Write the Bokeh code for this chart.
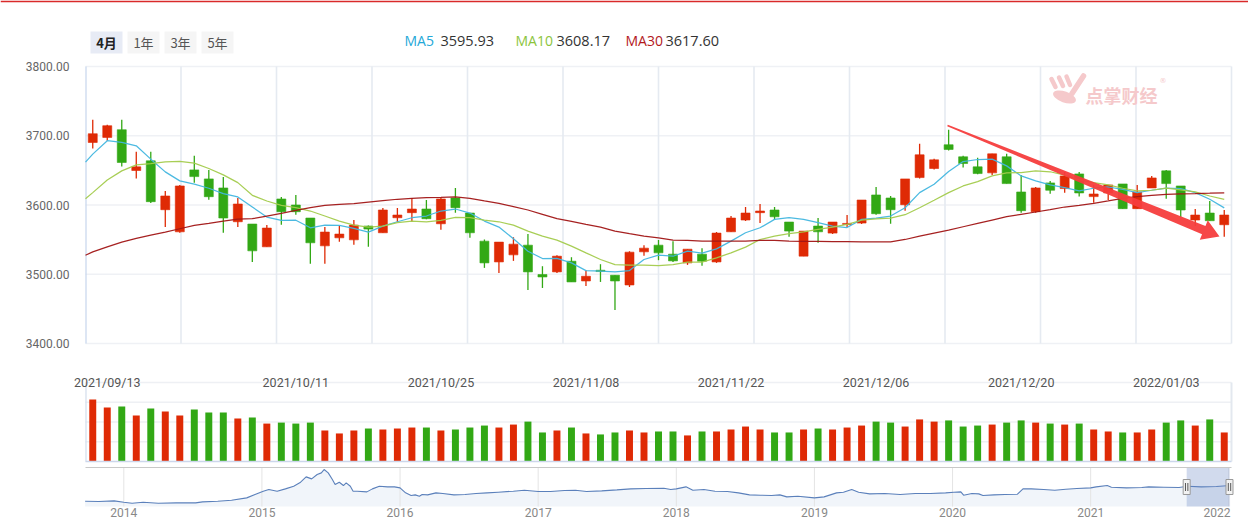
import numpy as np
from bokeh.plotting import figure
from bokeh.models import Range1d
from bokeh.core.properties import value
from bokeh.embed import file_html
from bokeh.resources import INLINE

# ---------------- data ----------------
opens = [3690.3, 3697.6, 3708.7, 3649.8, 3663.8, 3593.2, 3561.3, 3650.7, 3637.7, 3624.6,
         3575.8, 3572.5, 3539.6, 3608.7, 3600.0, 3581.2, 3541.0, 3552.6, 3549.7, 3569.6,
         3559.9, 3581.6, 3588.9, 3594.2, 3572.9, 3610.1, 3588.4, 3547.8, 3517.8, 3528.0,
         3542.0, 3499.6, 3503.4, 3518.8, 3490.3, 3505.8, 3498.6, 3484.5, 3532.4, 3542.0,
         3529.0, 3516.4, 3529.0, 3517.8, 3561.3, 3578.3, 3588.9, 3592.8, 3575.4, 3526.1,
         3569.6, 3559.4, 3572.0, 3573.9, 3614.5, 3610.1, 3600.4, 3639.6, 3652.7, 3687.0,
         3669.6, 3655.1, 3646.4, 3669.6, 3618.8, 3590.3, 3631.9, 3623.7, 3644.9, 3612.1,
         3617.4, 3630.4, 3594.7, 3624.6, 3649.3, 3627.5, 3578.3, 3588.4, 3571.5]
highs = [3723.2, 3715.9, 3723.2, 3676.8, 3676.8, 3620.3, 3629.0, 3671.0, 3650.7, 3640.6,
         3610.1, 3572.5, 3571.0, 3611.6, 3614.5, 3581.2, 3568.1, 3569.6, 3578.3, 3570.5,
         3595.7, 3595.7, 3610.1, 3607.2, 3610.1, 3624.6, 3588.4, 3550.2, 3546.4, 3553.6,
         3558.0, 3511.6, 3527.5, 3524.6, 3505.8, 3514.5, 3498.6, 3533.3, 3542.0, 3549.3,
         3547.8, 3536.2, 3537.7, 3560.9, 3584.1, 3597.1, 3601.4, 3597.1, 3575.4, 3562.3,
         3581.2, 3575.4, 3585.5, 3607.2, 3626.1, 3613.0, 3637.7, 3688.4, 3666.7, 3708.7,
         3671.0, 3668.1, 3673.9, 3673.9, 3643.5, 3626.1, 3634.8, 3647.8, 3647.8, 3629.0,
         3629.0, 3630.4, 3629.0, 3642.0, 3650.7, 3627.5, 3594.2, 3605.8, 3592.8]
lows = [3681.6, 3692.8, 3655.6, 3638.2, 3603.0, 3568.1, 3559.9, 3632.3, 3607.7, 3559.9,
        3568.1, 3517.8, 3539.6, 3571.5, 3586.0, 3515.0, 3515.0, 3546.8, 3542.5, 3539.6,
        3559.9, 3575.4, 3575.8, 3579.5, 3564.3, 3588.9, 3552.6, 3509.2, 3501.9, 3519.3,
        3477.3, 3480.2, 3501.9, 3488.9, 3483.1, 3488.9, 3448.3, 3481.6, 3526.6, 3520.3,
        3517.8, 3513.5, 3512.1, 3516.4, 3561.3, 3576.8, 3573.9, 3578.3, 3554.1, 3526.1,
        3545.4, 3558.0, 3568.1, 3572.5, 3586.0, 3572.9, 3591.8, 3638.2, 3651.2, 3678.7,
        3654.1, 3644.5, 3643.5, 3630.9, 3588.9, 3588.9, 3616.4, 3617.8, 3612.1, 3603.4,
        3607.2, 3594.7, 3594.7, 3624.6, 3609.2, 3582.6, 3569.6, 3577.3, 3554.1]
closes = [3702.9, 3714.5, 3661.4, 3655.1, 3604.8, 3613.0, 3627.5, 3641.0, 3612.0, 3581.2,
          3601.4, 3533.8, 3566.7, 3590.3, 3590.3, 3545.4, 3560.9, 3558.0, 3571.0, 3565.2,
          3592.8, 3585.5, 3594.2, 3580.2, 3608.7, 3596.1, 3559.9, 3516.4, 3546.4, 3543.5,
          3503.4, 3496.1, 3526.1, 3488.9, 3497.1, 3503.9, 3490.3, 3531.9, 3537.7, 3530.9,
          3519.3, 3536.2, 3518.8, 3559.4, 3581.2, 3588.4, 3591.3, 3583.0, 3562.3, 3562.3,
          3561.3, 3575.4, 3573.4, 3607.2, 3587.4, 3593.2, 3637.7, 3672.5, 3665.2, 3680.2,
          3659.9, 3645.4, 3673.9, 3630.9, 3591.8, 3624.6, 3621.3, 3642.0, 3617.4, 3615.9,
          3629.0, 3594.7, 3618.8, 3639.1, 3630.9, 3592.8, 3585.5, 3577.3, 3585.5]
volumes = [3140, 2730, 2780, 2330, 2680, 2530, 2330, 2630, 2480, 2480,
           2180, 2230, 1920, 1970, 1920, 1970, 1570, 1420, 1570, 1670,
           1620, 1670, 1720, 1720, 1570, 1620, 1720, 1820, 1720, 1870,
           2020, 1470, 1570, 1720, 1420, 1370, 1470, 1570, 1470, 1520,
           1520, 1320, 1520, 1520, 1620, 1770, 1620, 1470, 1470, 1620,
           1670, 1620, 1720, 1820, 2020, 1970, 1770, 2130, 2020, 2080,
           1770, 1820, 1870, 1970, 2080, 1970, 1920, 1870, 1920, 1620,
           1520, 1470, 1470, 1620, 1970, 2080, 1820, 2130, 1470]
ma5 = [3673.5, 3692.8, 3690.3, 3685.5, 3666.2, 3647.8, 3634.8, 3630.0, 3624.2, 3616.4,
       3611.6, 3597.1, 3582.6, 3577.8, 3578.0, 3567.1, 3571.0, 3570.5, 3566.2, 3560.9,
       3569.6, 3575.8, 3581.6, 3584.1, 3591.3, 3594.2, 3588.4, 3576.8, 3568.1, 3551.2,
       3533.3, 3522.7, 3523.0, 3516.4, 3505.3, 3504.5, 3503.4, 3505.3, 3521.3, 3527.5,
       3526.0, 3533.3, 3530.4, 3536.7, 3547.8, 3559.9, 3567.1, 3579.2, 3581.6, 3579.2,
       3574.4, 3569.6, 3567.5, 3579.2, 3581.0, 3584.1, 3596.1, 3617.9, 3630.0, 3648.3,
       3662.8, 3665.7, 3666.2, 3656.5, 3642.0, 3634.8, 3629.0, 3625.1, 3620.3, 3624.2,
       3626.0, 3622.6, 3617.9, 3621.3, 3624.2, 3623.7, 3617.9, 3608.3, 3595.9]
ma10 = [3617.9, 3636.2, 3649.3, 3658.0, 3659.9, 3662.3, 3663.0, 3660.4, 3652.7, 3643.5,
        3632.3, 3614.0, 3605.8, 3599.5, 3596.1, 3591.3, 3584.1, 3576.8, 3571.0, 3568.1,
        3569.6, 3574.4, 3576.8, 3575.8, 3577.8, 3582.1, 3581.6, 3578.3, 3575.8, 3571.0,
        3562.3, 3555.0, 3549.3, 3540.6, 3530.9, 3521.3, 3514.0, 3513.0, 3513.0, 3512.6,
        3514.0, 3517.4, 3517.4, 3523.7, 3530.9, 3539.1, 3550.2, 3555.0, 3558.5, 3561.3,
        3564.7, 3568.1, 3572.0, 3578.0, 3580.0, 3581.2, 3586.0, 3596.0, 3606.8, 3617.9,
        3627.5, 3633.8, 3642.0, 3646.4, 3646.9, 3649.3, 3648.0, 3643.0, 3636.2, 3632.3,
        3629.0, 3624.2, 3620.3, 3621.3, 3624.2, 3622.0, 3619.0, 3613.0, 3608.2]
ma30 = [3532.4, 3539.6, 3546.4, 3551.7, 3556.5, 3560.9, 3565.7, 3570.5, 3573.4, 3576.8,
        3579.7, 3580.2, 3584.1, 3588.0, 3592.3, 3596.1, 3599.5, 3601.0, 3602.0, 3604.3,
        3606.3, 3608.3, 3609.7, 3610.6, 3611.0, 3611.6, 3609.5, 3605.8, 3602.4, 3597.6,
        3592.8, 3586.5, 3580.2, 3576.3, 3572.0, 3568.1, 3562.3, 3558.5, 3555.1, 3552.6,
        3549.3, 3549.0, 3548.0, 3548.0, 3548.0, 3548.0, 3549.0, 3549.0, 3548.0, 3547.5,
        3547.5, 3547.0, 3547.0, 3546.8, 3546.8, 3546.8, 3550.2, 3555.1, 3559.5, 3563.8,
        3568.6, 3573.4, 3578.3, 3583.1, 3586.5, 3589.9, 3593.2, 3597.1, 3599.5, 3602.4,
        3605.8, 3609.7, 3612.0, 3614.0, 3615.3, 3616.2, 3616.5, 3617.0, 3617.6]
ma_edge = [3662.0, 3609.0, 3527.5]          # MA values where lines enter at the left edge
ma_names = ["MA5", "MA10", "MA30"]
ma_last = ["3595.93", "3608.17", "3617.60"]

date_tick_idx = [1, 14, 24, 34, 44, 54, 64, 74]
date_tick_labels = ["2021/09/13", "2021/10/11", "2021/10/25", "2021/11/08",
                    "2021/11/22", "2021/12/06", "2021/12/20", "2022/01/03"]
price_ticks = [3400, 3500, 3600, 3700, 3800]
vol_grid = [1000, 2000, 3000, 4000]
range_buttons = ["4月", "1年", "3年", "5年"]

nav_years = [2013.72, 2013.82, 2013.93, 2014.00, 2014.06, 2014.14, 2014.25, 2014.38, 2014.52, 2014.57,
             2014.68, 2014.78, 2014.89, 2014.95, 2015.01, 2015.05, 2015.11, 2015.17, 2015.23, 2015.28,
             2015.32, 2015.36, 2015.40, 2015.43, 2015.45, 2015.48, 2015.51, 2015.53, 2015.56, 2015.59,
             2015.61, 2015.64, 2015.66, 2015.69, 2015.76, 2015.80, 2015.85, 2015.91, 2015.96, 2016.00,
             2016.04, 2016.08, 2016.11, 2016.14, 2016.16, 2016.20, 2016.26, 2016.31, 2016.39, 2016.47,
             2016.55, 2016.63, 2016.71, 2016.82, 2016.90, 2017.00, 2017.09, 2017.19, 2017.27, 2017.35,
             2017.46, 2017.57, 2017.67, 2017.78, 2017.91,
             2017.96, 2018.00, 2018.07, 2018.12, 2018.20, 2018.28, 2018.37, 2018.45, 2018.53, 2018.61,
             2018.69, 2018.75, 2018.80, 2018.88, 2019.00, 2019.07, 2019.16, 2019.21, 2019.27, 2019.32,
             2019.40, 2019.51, 2019.62, 2019.73, 2019.84, 2019.95, 2020.01, 2020.06, 2020.08, 2020.14,
             2020.19, 2020.22, 2020.30, 2020.38, 2020.47, 2020.51, 2020.57, 2020.66, 2020.74, 2020.82,
             2020.90, 2021.00, 2021.04, 2021.12, 2021.15, 2021.26, 2021.37, 2021.42, 2021.53, 2021.64,
             2021.70, 2021.80, 2021.91, 2022.01]
nav_values = [2126, 2094, 2159, 2029, 1932, 2029, 1932, 1964, 1964, 2062,
              2126, 2224, 2450, 2774, 3098, 3260, 3098, 3325, 3584, 3973,
              4492, 4297, 4718, 4880, 5204, 4880, 4232, 3746, 3973, 3649,
              3908, 3584, 3098, 3098, 3034, 3325, 3584, 3520, 3520, 3422,
              2936, 2677, 2742, 2612, 2774, 2742, 2936, 2872, 2742, 2774,
              2872, 2936, 3001, 3098, 3196, 3066, 3066, 3163, 3196, 3066,
              3131, 3228, 3325, 3357, 3390,
              3260, 3325, 3520, 3196, 3260, 3098, 3066, 2936, 2742, 2710,
              2677, 2742, 2548, 2612, 2450, 2548, 2936, 3001, 3260, 3001,
              2839, 2872, 2774, 2872, 2872, 2936, 3001, 3034, 2710, 2872,
              2839, 2677, 2742, 2774, 2807, 3325, 3325, 3260, 3196, 3293,
              3357, 3422, 3520, 3649, 3487, 3422, 3455, 3520, 3487, 3455,
              3584, 3520, 3552, 3649]
nav_year_ticks = [2014, 2015, 2016, 2017, 2018, 2019, 2020, 2021, 2022]
nav_selection = [2021.695, 2022.005]

# ---------------- layout constants (canvas pixels) ----------------
W, H = 1248, 525
FRAME_L, FRAME_R = 85, 1231
RED, GREEN = "#df2a05", "#32a815"
MA_COLORS = ["#42b6df", "#a3cb4c", "#a11515"]
MA_TEXT_COLORS = ["#24a8d8", "#8cc43c", "#b3181c"]


def vspan(v1, y1, v2, y2):
    s = (v2 - v1) / (y2 - y1)
    return Range1d(start=v1 + (H - y1) * s, end=v1 + (0 - y1) * s)


def hspan(v1, x1, v2, x2):
    s = (v2 - v1) / (x2 - x1)
    return Range1d(start=v1 + (0 - x1) * s, end=v1 + (W - x1) * s)


def lin(v1, a1, v2, a2):
    s = (v2 - v1) / (a2 - a1)
    return lambda a: v1 + (a - a1) * s


n = len(closes)
idx = list(range(n))
colors = [RED if c >= o else GREEN for o, c in zip(opens, closes)]
body_top = [max(o, c) for o, c in zip(opens, closes)]
body_bot = [min(o, c) for o, c in zip(opens, closes)]

NAV_Y = lin(2000, 502, 5402, 467)
NAV_PX = lin(123.3, 2014, 1228.3, 2022)   # year -> canvas x

p = figure(width=W, height=H,
           x_range=hspan(-0.5, FRAME_L, n - 0.5, FRAME_R),
           y_range=vspan(price_ticks[-1], 66, price_ticks[0], 343),
           x_axis_location=None, y_axis_location=None,
           output_backend="svg", toolbar_location=None,
           min_border_left=0, min_border_right=0, min_border_top=0, min_border_bottom=0)
p.extra_x_ranges = {"px": Range1d(0, W), "nav": hspan(2014, 123.3, 2022, 1228.3)}
p.extra_y_ranges = {"py": Range1d(H, 0),
                    "vol": vspan(vol_grid[-1], 382, 0, 461),
                    "navy": vspan(2000, 502, 5402, 467)}
p.xgrid.visible = False
p.ygrid.visible = False
p.outline_line_color = None
p.background_fill_color = "white"
p.border_fill_color = "white"

# top red rule of the page
p.segment(x0=[0], x1=[W], y0=[0.8], y1=[0.8], x_range_name="px", y_range_name="py",
          line_color="#d92a2a", line_width=1.8)

# ---------------- main price panel ----------------
grid_x = [FRAME_L + k * (FRAME_R - FRAME_L) / 12 for k in range(13)]
p.segment(x0=[FRAME_L] * len(price_ticks), x1=[FRAME_R] * len(price_ticks),
          y0=price_ticks, y1=price_ticks, x_range_name="px",
          line_color="#eff1f5", line_width=1.6)
p.segment(x0=grid_x[1:], x1=grid_x[1:], y0=[price_ticks[0]] * 12, y1=[price_ticks[-1]] * 12,
          x_range_name="px", line_color="#e5eaf1", line_width=1.6)
p.segment(x0=[FRAME_L + 0.5], x1=[FRAME_L + 0.5], y0=[price_ticks[0]], y1=[price_ticks[-1]],
          x_range_name="px", line_color="#c6d6ed", line_width=1.2)
p.text(x=[69] * len(price_ticks), y=price_ticks, text=[f"{t:.2f}" for t in price_ticks],
       x_range_name="px", text_font=value("Roboto"), text_font_size="12px",
       text_color="#666666", text_align="right", text_baseline="middle")

p.segment(x0=idx, y0=highs, x1=idx, y1=lows, line_color=colors, line_width=1.3)
p.vbar(x=idx, width=0.62, top=body_top, bottom=body_bot,
       fill_color=colors, line_color=colors, line_width=0.6)

for vals, edge, col in zip([ma5, ma10, ma30], ma_edge, MA_COLORS):
    p.line(x=[-0.5] + idx, y=[edge] + vals, line_color=col, line_width=1.25, line_alpha=0.95)

# hand-drawn arrow annotation (canvas pixels)
S = np.array([947.0, 125.0])
T = np.array([1219.0, 236.0])
u = (T - S) / np.linalg.norm(T - S)
nrm = np.array([-u[1], u[0]])
B = T - 17 * u
pts = [S + 0.8 * nrm, B + 4.5 * nrm, B + 10.5 * nrm, T, B - 10.5 * nrm, B - 4.5 * nrm, S - 0.8 * nrm]
p.patch(x=[q[0] for q in pts], y=[q[1] for q in pts], x_range_name="px", y_range_name="py",
        fill_color="#f53d3d", fill_alpha=0.95, line_color=None)

# watermark
wm = "#f5c9cb"
p.segment(x0=[1051, 1058.5, 1066], y0=[78.5, 77, 76], x1=[1055, 1062.5, 1069.5], y1=[86.5, 85.5, 84.5],
          x_range_name="px", y_range_name="py", line_color=wm, line_width=4.5, line_cap="round")
p.segment(x0=[1083], y0=[75.5], x1=[1071.5], y1=[93], x_range_name="px", y_range_name="py",
          line_color=wm, line_width=5.5, line_cap="round")
p.ellipse(x=[1064], y=[96.5], width=[24], height=[11], angle=[-0.35],
          x_range_name="px", y_range_name="py", fill_color=wm, line_color=None)
p.text(x=[1085], y=[94], text=["点掌财经"], x_range_name="px", y_range_name="py",
       text_font=value("Noto Sans CJK SC"), text_font_size="18px", text_font_style="bold",
       text_color=wm, text_align="left", text_baseline="middle")
p.text(x=[1159], y=[80], text=["®"], x_range_name="px", y_range_name="py",
       text_font=value("DejaVu Sans"), text_font_size="7px", text_color=wm,
       text_align="left", text_baseline="middle")

# range buttons
p.quad(left=[90, 127, 164, 201], right=[122, 159, 196, 233], top=[31] * 4, bottom=[53] * 4,
       x_range_name="px", y_range_name="py",
       fill_color=["#e7ebf5", "#f5f5f5", "#f5f5f5", "#f5f5f5"], line_color=None)
p.text(x=[106], y=[42], text=range_buttons[:1], x_range_name="px", y_range_name="py",
       text_font=value("Noto Sans CJK SC"), text_font_size="13px", text_font_style="bold",
       text_color="#222222", text_align="center", text_baseline="middle")
p.text(x=[143, 180, 217], y=[42] * 3, text=range_buttons[1:], x_range_name="px", y_range_name="py",
       text_font=value("Noto Sans CJK SC"), text_font_size="13px",
       text_color="#555555", text_align="center", text_baseline="middle")

# MA legend
p.text(x=[404, 515, 625], y=[40] * 3, text=ma_names, x_range_name="px", y_range_name="py",
       text_font=value("Open Sans"), text_font_size="14px", text_color=MA_TEXT_COLORS,
       text_align="left", text_baseline="middle")
p.text(x=[440, 556, 665], y=[40] * 3, text=ma_last, x_range_name="px", y_range_name="py",
       text_font=value("Open Sans"), text_font_size="14.5px", text_color="#333333",
       text_align="left", text_baseline="middle")

# ---------------- volume panel ----------------
p.segment(x0=[FRAME_L] * len(vol_grid), x1=[FRAME_R] * len(vol_grid), y0=vol_grid, y1=vol_grid,
          x_range_name="px", y_range_name="vol", line_color="#eef0f4", line_width=1.5)
p.segment(x0=[FRAME_L + 0.5, FRAME_R], x1=[FRAME_L + 0.5, FRAME_R],
          y0=[0, 0], y1=[vol_grid[-1]] * 2, x_range_name="px", y_range_name="vol",
          line_color=["#d3ddec", "#e3e8ef"], line_width=[1.2, 2])
p.vbar(x=idx, width=0.48, top=volumes, bottom=0, y_range_name="vol",
       fill_color=colors, line_color=None)
p.segment(x0=[FRAME_L], x1=[FRAME_R], y0=[0], y1=[0], x_range_name="px", y_range_name="vol",
          line_color="#ccd6eb", line_width=1.5)
p.text(x=date_tick_idx, y=[382] * len(date_tick_idx), text=date_tick_labels, y_range_name="py",
       text_font=value("Roboto"), text_font_size="12.5px", text_color="#555555",
       text_align="center", text_baseline="middle")

# ---------------- navigator ----------------
nav_bottom = NAV_Y(506)
nav_top = NAV_Y(467)
p.varea(x=nav_years, y1=[nav_bottom] * len(nav_years), y2=nav_values,
        x_range_name="nav", y_range_name="navy", fill_color="#f1f5fa")
p.segment(x0=nav_year_ticks, x1=nav_year_ticks, y0=[nav_bottom] * 9, y1=[nav_top] * 9,
          x_range_name="nav", y_range_name="navy", line_color="#e4e4e4", line_width=1)
p.line(x=nav_years, y=nav_values, x_range_name="nav", y_range_name="navy",
       line_color="#5b80bb", line_width=1.1)
p.quad(left=[nav_selection[0]], right=[nav_selection[1]], bottom=[nav_bottom], top=[nav_top],
       x_range_name="nav", y_range_name="navy", fill_color="#6685c2", fill_alpha=0.3, line_color=None)
p.segment(x0=[FRAME_L], x1=[FRAME_R], y0=[467], y1=[467], x_range_name="px", y_range_name="py",
          line_color="#c8c8c8", line_width=1.2)
for sx in nav_selection:
    cx = NAV_PX(sx)
    p.quad(left=[cx - 3.5], right=[cx + 3.5], top=[479], bottom=[494],
           x_range_name="px", y_range_name="py", fill_color="#f2f2f2",
           line_color="#999999", line_width=1)
    p.segment(x0=[cx - 1.2, cx + 1.2], x1=[cx - 1.2, cx + 1.2], y0=[482.5] * 2, y1=[490.5] * 2,
              x_range_name="px", y_range_name="py", line_color="#555555", line_width=1)

p.text(x=nav_year_ticks[:-1], y=[512] * 8, text=[str(y) for y in nav_year_ticks[:-1]],
       x_range_name="nav", y_range_name="py", text_font=value("Roboto"), text_font_size="12px",
       text_color="#888888", text_align="center", text_baseline="middle")
p.text(x=[FRAME_R - 1], y=[512], text=[str(nav_year_ticks[-1])], x_range_name="px", y_range_name="py",
       text_font=value("Roboto"), text_font_size="12px", text_color="#888888",
       text_align="right", text_baseline="middle")

open("out.html", "w").write(file_html(p, INLINE))
